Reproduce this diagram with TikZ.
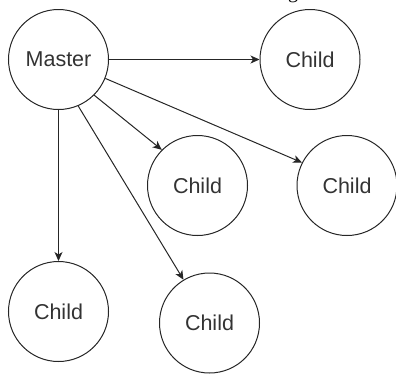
\documentclass[tikz,border=0pt]{standalone}
\usepackage{fontspec}
\setmainfont{Liberation Sans}
\newfontfamily\captionserif{Liberation Serif}
\usetikzlibrary{arrows.meta}
\definecolor{txtgray}{HTML}{333333}
\tikzset{
  ball/.style={circle, draw=black!85, line width=1pt, minimum size=100pt, inner sep=0pt,
    text=txtgray, font=\fontsize{21.5}{24}\selectfont},
  conn/.style={draw=black!85, line width=1pt, -{Stealth[length=9pt,width=8pt,inset=2.5pt]}}
}
\begin{document}
\begin{tikzpicture}[x=1pt,y=-1pt]
\useasboundingbox (0,0) rectangle (396,373);
\clip (0,0) rectangle (396,373);
\node[anchor=base, font=\captionserif\fontsize{20}{22}\selectfont, inner sep=0pt] (frag) at (293,-1.5) {g};
\node[ball] (master) at (58.5,59.5) {Master};
\node[ball] (c1) at (310,59.5) {Child};
\node[ball] (c2) at (197.5,185.5) {Child};
\node[ball] (c3) at (347,185.5) {Child};
\node[ball] (c4) at (58.5,311.5) {Child};
\node[ball] (c5) at (209.5,323) {Child};
\draw[conn] (master.east) -- (c1.west);
\draw[conn] (master.-45) -- (c2.135);
\draw[conn] (master.-22) -- (c3.153);
\draw[conn] (master.-67) -- (c5.121);
\draw[conn] (master.south) -- (c4.north);
\end{tikzpicture}
\end{document}
